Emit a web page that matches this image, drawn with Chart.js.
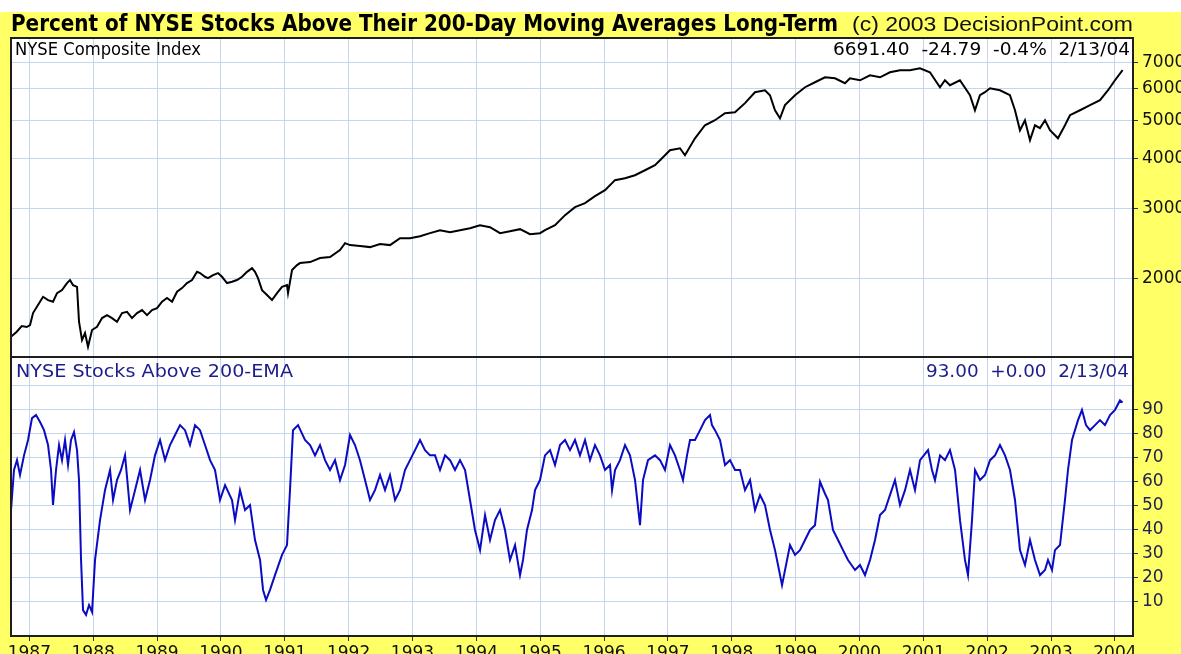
<!DOCTYPE html>
<html><head><meta charset="utf-8">
<script src="https://cdn.jsdelivr.net/npm/chart.js@4.4.1/dist/chart.umd.min.js"></script>
<style>
html,body{margin:0;padding:0;}
body{width:1181px;height:654px;position:relative;overflow:hidden;background:#ffff66;}
#strip{position:absolute;left:0;top:0;width:1181px;height:12px;background:#fff;}
canvas{position:absolute;left:0;}
#c1{top:0;}
#c2{top:340px;}
.t{position:absolute;left:0;top:0;white-space:nowrap;line-height:normal;transform-origin:0 0;}
.p{display:inline-block;width:0;height:0;vertical-align:baseline;}
</style></head>
<body>
<div id="strip"></div>
<canvas id="c1" width="1181" height="380"></canvas>
<canvas id="c2" width="1181" height="314"></canvas>
<div class="t" id="title" style="font:bold 23px 'Liberation Sans Narrow','DejaVu Sans Condensed','Liberation Sans',Arial,sans-serif;color:#000;">Percent of NYSE Stocks Above Their 200-Day Moving Averages Long-Term<span class="p"></span></div>
<div class="t" id="copy" style="font:20px 'Liberation Sans',Arial,sans-serif;color:#111;">(c) 2003 DecisionPoint.com<span class="p"></span></div>
<div class="t" id="lab1" style="font:17px 'DejaVu Sans',sans-serif;color:#000;">NYSE Composite Index<span class="p"></span></div>
<div class="t" id="val1" style="font:17px 'DejaVu Sans',sans-serif;color:#000;">6691.40&nbsp; -24.79&nbsp; -0.4%&nbsp; 2/13/04<span class="p"></span></div>
<div class="t" id="lab2" style="font:17px 'DejaVu Sans',sans-serif;color:#1c1c8a;">NYSE Stocks Above 200-EMA<span class="p"></span></div>
<div class="t" id="val2" style="font:17px 'DejaVu Sans',sans-serif;color:#1c1c8a;">93.00&nbsp; +0.00&nbsp; 2/13/04<span class="p"></span></div>
<script>
// ---- data ----
const yearTicks = [1987,1988,1989,1990,1991,1992,1993,1994,1995,1996,1997,1998,1999,2000,2001,2002,2003,2004];
const nyseTicks = [2000,3000,4000,5000,6000,7000];
const pctTicks = [10,20,30,40,50,60,70,80,90];

const nyseDates = [1986.713,1986.803,1986.881,1986.959,1987.011,1987.058,1987.136,1987.215,1987.293,1987.371,1987.434,1987.512,1987.590,1987.637,1987.684,1987.747,1987.778,1987.825,1987.872,1987.919,1987.982,1988.060,1988.139,1988.217,1988.295,1988.373,1988.452,1988.530,1988.608,1988.687,1988.765,1988.843,1988.921,1989.000,1989.078,1989.156,1989.235,1989.313,1989.391,1989.469,1989.548,1989.626,1989.673,1989.751,1989.798,1989.877,1989.955,1990.017,1990.096,1990.174,1990.252,1990.331,1990.409,1990.487,1990.534,1990.581,1990.644,1990.722,1990.800,1990.879,1990.957,1991.035,1991.051,1991.114,1991.192,1991.239,1991.396,1991.552,1991.709,1991.865,1991.944,1992.022,1992.179,1992.335,1992.492,1992.648,1992.805,1992.961,1993.118,1993.275,1993.431,1993.588,1993.744,1993.901,1994.057,1994.214,1994.371,1994.527,1994.684,1994.840,1994.997,1995.075,1995.232,1995.389,1995.545,1995.702,1995.858,1996.015,1996.171,1996.328,1996.484,1996.641,1996.797,1996.876,1997.032,1997.189,1997.267,1997.424,1997.580,1997.737,1997.894,1998.050,1998.207,1998.363,1998.520,1998.598,1998.677,1998.755,1998.833,1998.990,1999.147,1999.303,1999.460,1999.616,1999.773,1999.851,2000.008,2000.164,2000.321,2000.477,2000.634,2000.790,2000.947,2001.103,2001.260,2001.338,2001.417,2001.573,2001.730,2001.808,2001.886,2001.965,2002.043,2002.200,2002.356,2002.435,2002.513,2002.591,2002.670,2002.748,2002.826,2002.905,2002.983,2003.108,2003.218,2003.296,2003.453,2003.610,2003.766,2003.892,2004.001,2004.120];
const nyseValues = [1428,1470,1519,1511,1528,1638,1716,1800,1766,1749,1839,1871,1949,1983,1926,1907,1558,1401,1459,1348,1485,1513,1591,1619,1591,1558,1638,1650,1591,1638,1667,1619,1667,1686,1749,1787,1749,1853,1893,1949,1983,2080,2065,2021,2006,2041,2065,2021,1949,1963,1983,2021,2080,2125,2080,2006,1871,1818,1766,1839,1907,1926,1839,2101,2163,2188,2201,2252,2265,2359,2456,2428,2414,2400,2442,2428,2528,2528,2557,2602,2647,2617,2647,2678,2725,2694,2602,2632,2663,2587,2602,2647,2725,2888,3026,3096,3223,3338,3537,3577,3640,3746,3856,3969,4205,4254,4085,4507,4861,5004,5210,5241,5526,5886,5954,5785,5302,5063,5462,5785,6059,6236,6418,6381,6200,6381,6308,6492,6418,6606,6683,6683,6761,6606,6059,6308,6129,6308,5785,5302,5785,5886,6023,5954,5785,5302,4722,5004,4460,4861,4781,5004,4722,4507,4861,5152,5302,5462,5619,5954,6308,6691];

const pctDates = [1986.713,1986.760,1986.807,1986.854,1986.917,1986.980,1987.042,1987.105,1987.168,1987.230,1987.293,1987.340,1987.371,1987.418,1987.465,1987.512,1987.559,1987.606,1987.653,1987.700,1987.747,1987.778,1987.810,1987.841,1987.888,1987.935,1987.982,1988.029,1988.107,1988.185,1988.264,1988.311,1988.373,1988.436,1988.499,1988.577,1988.655,1988.734,1988.812,1988.890,1988.968,1989.047,1989.125,1989.203,1989.282,1989.360,1989.438,1989.516,1989.595,1989.673,1989.751,1989.830,1989.908,1989.986,1990.065,1990.174,1990.221,1990.299,1990.378,1990.456,1990.534,1990.613,1990.660,1990.707,1990.769,1990.847,1990.957,1991.035,1991.082,1991.129,1991.208,1991.317,1991.396,1991.474,1991.552,1991.630,1991.709,1991.787,1991.865,1991.944,1992.022,1992.100,1992.178,1992.257,1992.335,1992.413,1992.492,1992.570,1992.648,1992.727,1992.805,1992.883,1992.961,1993.040,1993.118,1993.196,1993.275,1993.353,1993.431,1993.510,1993.588,1993.666,1993.744,1993.823,1993.901,1993.979,1994.058,1994.136,1994.214,1994.292,1994.371,1994.449,1994.527,1994.606,1994.684,1994.731,1994.793,1994.872,1994.919,1994.997,1995.075,1995.154,1995.232,1995.310,1995.389,1995.467,1995.545,1995.623,1995.702,1995.780,1995.858,1995.937,1996.015,1996.093,1996.125,1996.172,1996.250,1996.328,1996.406,1996.485,1996.563,1996.610,1996.688,1996.798,1996.876,1996.954,1997.033,1997.111,1997.189,1997.236,1997.299,1997.346,1997.424,1997.503,1997.581,1997.659,1997.690,1997.737,1997.816,1997.894,1997.972,1998.051,1998.129,1998.207,1998.286,1998.364,1998.442,1998.520,1998.599,1998.677,1998.740,1998.787,1998.834,1998.912,1998.990,1999.068,1999.147,1999.225,1999.303,1999.382,1999.460,1999.507,1999.585,1999.664,1999.742,1999.820,1999.930,2000.008,2000.086,2000.165,2000.243,2000.321,2000.399,2000.478,2000.556,2000.634,2000.713,2000.791,2000.869,2000.948,2001.073,2001.135,2001.182,2001.261,2001.339,2001.417,2001.496,2001.574,2001.652,2001.699,2001.762,2001.809,2001.887,2001.965,2002.044,2002.122,2002.200,2002.279,2002.357,2002.435,2002.513,2002.592,2002.670,2002.748,2002.827,2002.905,2002.952,2003.015,2003.061,2003.140,2003.218,2003.265,2003.328,2003.422,2003.484,2003.547,2003.610,2003.688,2003.766,2003.844,2003.923,2004.001,2004.079,2004.120];
const pctValues = [48.2,64.9,69,62.8,71,77.4,86.5,87.8,84.9,81.5,75.3,64.9,50.3,64.9,75.3,69,77.4,67,77.4,80.7,73.2,60.7,27.4,6.5,4.5,8.6,5.7,27.4,44,56.5,64.9,52.4,60.7,64.9,71,48.2,56.5,64.9,52.4,60.7,71,77.4,69,75.3,79.5,83.6,81.5,75.3,83.6,81.5,75.3,69,64.9,52.4,58.6,52.4,44,56.5,48.2,50.3,35.7,27.4,14.9,10.7,14.9,21.1,29.5,33.6,56.5,81.5,83.6,77.4,75.3,71,75.3,69,64.9,69,60.7,67,79.5,75.3,69,60.7,52.4,56.5,62.8,56.5,62.8,52.4,56.5,64.9,69,73.2,77.4,73.2,71,71,64.9,71,69,64.9,69,64.9,52.4,39.9,31.5,46.1,35.7,44,48.2,39.9,27.4,33.6,21.1,27.4,39.9,48.2,56.5,60.7,71,73.2,67,75.3,77.4,73.2,77.4,71,77.4,69,75.3,71,64.9,67,56.5,64.9,69,75.3,71,60.7,41.9,60.7,69,71,69,64.9,75.3,71,64.9,60.7,71,77.4,77.4,81.5,85.7,87.8,83.6,81.5,77.4,67,69,64.9,64.9,56.5,60.7,48.2,54.5,50.3,39.9,31.5,23.2,16.9,23.2,33.6,29.5,31.5,35.7,39.9,41.9,60,55,52.4,39.9,35.7,31.5,27.4,23.2,25.3,21.1,27.4,35.7,46.1,48.2,54.5,60.7,50.3,56.5,64.9,56.5,69,73.2,64.9,60.7,71,69,73.2,64.9,44,27.4,21.1,44,64.9,60.7,62.8,69,71,75.3,71,64.9,52.4,31.5,25.3,35.7,27.4,21.1,23.2,27.4,23.2,31.5,33.6,52.4,64.9,77.4,85.7,89.9,83.6,81.5,83.6,85.7,83.6,87.8,89.9,93.9,93];

// ---- layout constants ----
const X_MIN = 1986.713, X_MAX = 2004.283;
const GRID = '#c3d6ea';
const AXIS_FONT = {family:"'DejaVu Sans', sans-serif", size:17};

const panelPlugin = {
  id:'panel',
  beforeDraw(chart){const {ctx,chartArea:a}=chart;ctx.save();ctx.fillStyle='#ffffff';ctx.fillRect(a.left,a.top,a.right-a.left,a.bottom-a.top);ctx.restore();},
  afterDraw(chart){const {ctx,chartArea:a}=chart;ctx.save();ctx.strokeStyle='#1e1e1e';ctx.lineWidth=2;ctx.strokeRect(a.left,a.top,a.right-a.left,a.bottom-a.top);ctx.restore();}
};

function pts(d,v){const n=Math.min(d.length,v.length);const o=[];for(let i=0;i<n;i++)o.push({x:d[i],y:v[i]});return o;}

function xScale(showLabels, h){
  return {
    type:'linear', min:X_MIN, max:X_MAX, position:'bottom',
    afterBuildTicks(s){s.ticks=yearTicks.map(v=>({value:v}));},
    afterFit(s){s.height=h;s.paddingLeft=0;s.paddingRight=0;},
    border:{display:false},
    grid:{color:GRID,lineWidth:1,drawTicks:showLabels,tickLength:5,tickColor:'#333'},
    ticks:{display:showLabels,autoSkip:false,maxRotation:0,padding:2,color:'#111',font:AXIS_FONT,callback:v=>String(v)}
  };
}

new Chart(document.getElementById('c1'),{
  type:'line',
  data:{datasets:[{data:pts(nyseDates,nyseValues),borderColor:'#000',borderWidth:2,pointRadius:0,tension:0}]},
  options:{
    responsive:false,animation:false,devicePixelRatio:1,
    layout:{autoPadding:false,padding:{left:11,right:0,top:38,bottom:23}},
    plugins:{legend:{display:false},tooltip:{enabled:false}},
    scales:{
      x:xScale(false,0),
      y:{type:'logarithmic',position:'right',min:1270,max:8058,
        afterBuildTicks(s){s.ticks=nyseTicks.map(v=>({value:v}));},
        afterFit(s){s.width=48;s.paddingTop=0;s.paddingBottom=0;},
        border:{display:false},
        grid:{color:GRID,tickLength:5,tickColor:'#333'},
        ticks:{padding:4,color:'#111',font:AXIS_FONT,callback:v=>String(v)}}
    }
  },
  plugins:[panelPlugin]
});

new Chart(document.getElementById('c2'),{
  type:'line',
  data:{datasets:[{data:pts(pctDates,pctValues),borderColor:'#0b0bc4',borderWidth:2,pointRadius:0,tension:0}]},
  options:{
    responsive:false,animation:false,devicePixelRatio:1,
    layout:{autoPadding:false,padding:{left:11,right:0,top:17,bottom:0}},
    plugins:{legend:{display:false},tooltip:{enabled:false}},
    scales:{
      x:xScale(true,18),
      y:{type:'linear',position:'right',min:-4.3,max:112,
        afterBuildTicks(s){s.ticks=pctTicks.concat([100]).map(v=>({value:v}));},
        afterFit(s){s.width=48;s.paddingTop=0;s.paddingBottom=0;},
        border:{display:false},
        grid:{color:GRID,tickLength:5,tickColor:c=>c.tick&&c.tick.value===100?'rgba(0,0,0,0)':'#333'},
        ticks:{padding:4,color:'#222250',font:AXIS_FONT,callback:v=>v===100?'':String(v)}}
    }
  },
  plugins:[panelPlugin]
});

// ---- text placement ----
function place(id,x,baseY,align,targetW){
  const el=document.getElementById(id);
  const r=el.getBoundingClientRect();
  const p=el.querySelector('.p').getBoundingClientRect();
  const off=p.top-r.top;
  const w=r.width;
  const s=targetW?targetW/w:1;
  el.style.transform='scaleX('+s+')';
  el.style.left=(align==='right'?x-w*s:x)+'px';
  el.style.top=(baseY-off)+'px';
}
place('title',11,31,'left',827);
place('copy',852,31,'left',281);
place('lab1',15,55,'left',186);
place('val1',1130,55,'right',297);
place('lab2',16,377,'left',277);
place('val2',1129,377,'right',203);
</script>
</body></html>
